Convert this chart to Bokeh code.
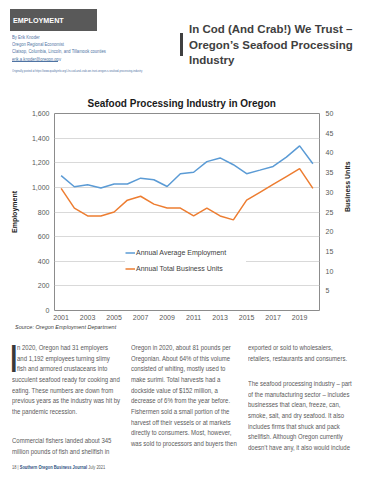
import math
import html
from bokeh.plotting import figure
from bokeh.layouts import column
from bokeh.models import (Range1d, LinearAxis, FixedTicker, NumeralTickFormatter,
                          Legend, LegendItem, Div)
from bokeh.embed import file_html
from bokeh.resources import INLINE

# ---------------- data ----------------
years = list(range(2001, 2021))
employment = [1095, 1005, 1022, 995, 1027, 1027, 1075, 1062, 1007, 1111,
              1123, 1209, 1239, 1184, 1111, 1140, 1170, 1246, 1337, 1192]
business_units = [31, 26, 24, 24, 25, 28, 29, 27, 26, 26,
                  24, 26, 24, 23, 28, 30, 32, 34, 36, 31]
x_ticks = [2001, 2003, 2005, 2007, 2009, 2011, 2013, 2015, 2017, 2019]
left_ticks = [0, 200, 400, 600, 800, 1000, 1200, 1400, 1600]
right_ticks = [5, 10, 15, 20, 25, 30, 35, 40, 45, 50]
series_names = ["Annual Average Employment", "Annual Total Business Units"]

section = "EMPLOYMENT"
header_lines = ["By Erik Knoder", "Oregon Regional Economist",
                "Clatsop, Columbia, Lincoln, and Tillamook counties",
                "erik.a.knoder@oregon.gov"]
posted = ("Originally posted at https://www.qualityinfo.org/-/in-cod-and-crab-we-trust-"
          "oregon-s-seafood-processing-industry")
headline = ["In Cod (And Crab!) We Trust \u2013", "Oregon\u2019s Seafood Processing", "Industry"]
source = "Source: Oregon Employment Department"
col1a = ["n 2020, Oregon had 31 employers", "and 1,192 employees turning slimy",
         "fish and armored crustaceans into", "succulent seafood ready for cooking and",
         "eating. These numbers are down from", "previous years as the industry was hit by",
         "the pandemic recession."]
col1b = ["Commercial fishers landed about 345", "million pounds of fish and shellfish in"]
col2 = ["Oregon in 2020, about 81 pounds per", "Oregonian. About 64% of this volume",
        "consisted of whiting, mostly used to", "make surimi. Total harvests had a",
        "dockside value of $152 million, a", "decrease of 6% from the year before.",
        "Fishermen sold a small portion of the", "harvest off their vessels or at markets",
        "directly to consumers. Most, however,", "was sold to processors and buyers then"]
col3a = ["exported or sold to wholesalers,", "retailers, restaurants and consumers."]
col3b = ["The seafood processing industry \u2013 part", "of the manufacturing sector \u2013 includes",
         "businesses that clean, freeze, can,", "smoke, salt, and dry seafood. It also",
         "includes firms that shuck and pack", "shellfish. Although Oregon currently",
         "doesn\u2019t have any, it also would include"]
footer = ["18 | ", "Southern Oregon Business Journal", " July 2021"]

W = 371
H_HEAD, H_CHART, H_ART = 82, 240, 158
BLUE = "#5b9bd5"
ORANGE = "#ed7d31"
SANS = "Liberation Sans"
CSS_FONT = "'Liberation Sans', Arial, sans-serif"


def txt(text, x, base, fs, color="#404040", weight="normal", style="normal",
        sx=1.0, raw=False):
    """absolutely positioned text; base = baseline y within the block"""
    top = base - 0.8465 * fs
    body = text if raw else html.escape(text)
    return (f'<div style="position:absolute;left:{x}px;top:{top:.2f}px;'
            f'font-family:{CSS_FONT};font-size:{fs}px;line-height:{fs}px;'
            f'color:{color};font-weight:{weight};font-style:{style};'
            f'white-space:nowrap;transform:scaleX({sx});transform-origin:0 0;">'
            f'{body}</div>')


def box(x, y, w, h, color):
    return (f'<div style="position:absolute;left:{x}px;top:{y}px;width:{w}px;'
            f'height:{h}px;background:{color};"></div>')


def block(parts, h):
    inner = "".join(parts)
    return (f'<div style="position:relative;width:{W}px;height:{h}px;'
            f'overflow:hidden;background:white;margin:0;padding:0;">{inner}</div>')


# ---------------- header (HTML) ----------------
hp = [box(10, 9, 87, 22, "#595959"),
      txt(section, 13, 22.6, 7.2, "white", weight="bold")]
for i, t in enumerate(header_lines):
    hp.append(txt(t, 12, 39 + i * 7.3, 5.2, "#4f73a3", sx=0.8))
hp.append(box(12, 61.3, 46, 0.5, "#4f73a3"))
hp.append(txt(posted, 12, 73.2, 3.3, "#4f73a3", sx=0.8))
hp.append(box(180, 32.5, 2.5, 23, "#404040"))
for i, t in enumerate(headline):
    hp.append(txt(t, 189, 34 + i * 15.5, 11.5, "#404040", weight="bold"))
head = Div(text=block(hp, H_HEAD), width=W, height=H_HEAD, margin=(0, 0, 0, 0),
           disable_math=True)

# ---------------- chart ----------------
p = figure(width=W, height=H_CHART, output_backend="svg", toolbar_location=None,
           x_range=Range1d(2000.5, 2020.5), y_range=Range1d(0, 1600),
           min_border_left=54, min_border_right=52, min_border_top=31,
           min_border_bottom=12, background_fill_color="white",
           border_fill_color="white", margin=(0, 0, 0, 0),
           title="Seafood Processing Industry in Oregon")
p.extra_y_ranges = {"units": Range1d(0, 50)}
p.title.align = "left"
p.title.offset = 33
p.title.standoff = 10
p.title.text_font = SANS
p.title.text_font_size = "10px"
p.title.text_font_style = "bold"
p.title.text_color = "#1a1a1a"

p.outline_line_color = "#8c8c8c"
p.outline_line_width = 1
p.xgrid.grid_line_color = None
p.ygrid.grid_line_color = "#d9d9d9"
p.ygrid.ticker = FixedTicker(ticks=left_ticks)


def style_axis(ax, standoff):
    ax.axis_line_color = None
    ax.major_tick_line_color = None
    ax.minor_tick_line_color = None
    ax.major_tick_out = 0
    ax.major_tick_in = 0
    ax.minor_tick_out = 0
    ax.minor_tick_in = 0
    ax.major_label_text_font = SANS
    ax.major_label_text_font_size = "7px"
    ax.major_label_text_color = "#595959"
    ax.major_label_standoff = standoff
    ax.axis_label_text_font = SANS
    ax.axis_label_text_font_size = "7px"
    ax.axis_label_text_font_style = "bold"
    ax.axis_label_text_color = "#1a1a1a"


p.xaxis.ticker = FixedTicker(ticks=x_ticks)
style_axis(p.xaxis[0], 4)
p.yaxis.ticker = FixedTicker(ticks=left_ticks)
p.yaxis.formatter = NumeralTickFormatter(format="0,0")
style_axis(p.yaxis[0], 5)
p.yaxis.axis_label = "Employment"
p.yaxis.axis_label_standoff = 11

right = LinearAxis(y_range_name="units", ticker=FixedTicker(ticks=right_ticks),
                   axis_label="Business Units")
style_axis(right, 6)
right.axis_label_standoff = 11
right.axis_label_orientation = math.pi / 2
p.add_layout(right, "right")

r1 = p.line(years, employment, line_color=BLUE, line_width=1.5)
r2 = p.line(years, business_units, y_range_name="units", line_color=ORANGE, line_width=1.5)

legend = Legend(items=[LegendItem(label=series_names[0], renderers=[r1]),
                       LegendItem(label=series_names[1], renderers=[r2])],
                location=(71, 36), orientation="vertical",
                background_fill_color="white", background_fill_alpha=1.0,
                border_line_color=None, padding=5, spacing=5, margin=0,
                glyph_width=10, glyph_height=11, label_height=11,
                label_standoff=1, label_width=110,
                label_text_font=SANS, label_text_font_size="7px",
                label_text_color="#404040")
p.add_layout(legend)

# ---------------- article (HTML) ----------------
Y0 = 322
LH = 10.65
FS = 7.8
SX = 0.77
TC = "#5a5a5a"
ap = [txt(source, 15, 330 - Y0, 5.5, "#404040", style="italic"),
      txt("I", 8.4, 372 - Y0, 38, "#3a3a3a")]
for i, t in enumerate(col1a):
    ap.append(txt(t, 16.5 if i < 3 else 12, 350.6 - Y0 + i * LH, FS, TC, sx=SX))
for i, t in enumerate(col1b):
    ap.append(txt(t, 12, 443.6 - Y0 + i * LH, FS, TC, sx=SX))
for i, t in enumerate(col2):
    ap.append(txt(t, 130.5, 350.6 - Y0 + i * LH, FS, TC, sx=SX))
for i, t in enumerate(col3a):
    ap.append(txt(t, 248, 350.6 - Y0 + i * LH, FS, TC, sx=SX))
for i, t in enumerate(col3b):
    ap.append(txt(t, 248, 386.6 - Y0 + i * LH, FS, TC, sx=SX))
foot = (html.escape(footer[0]) +
        f'<span style="font-weight:bold;color:#2d4f80">{html.escape(footer[1])}</span>' +
        html.escape(footer[2]))
ap.append(txt(foot, 12, 469 - Y0, 5.0, TC, sx=0.8, raw=True))
art = Div(text=block(ap, H_ART), width=W, height=H_ART, margin=(0, 0, 0, 0),
          disable_math=True)

page = column(head, p, art, spacing=0)
open("out.html", "w").write(file_html(page, INLINE))
